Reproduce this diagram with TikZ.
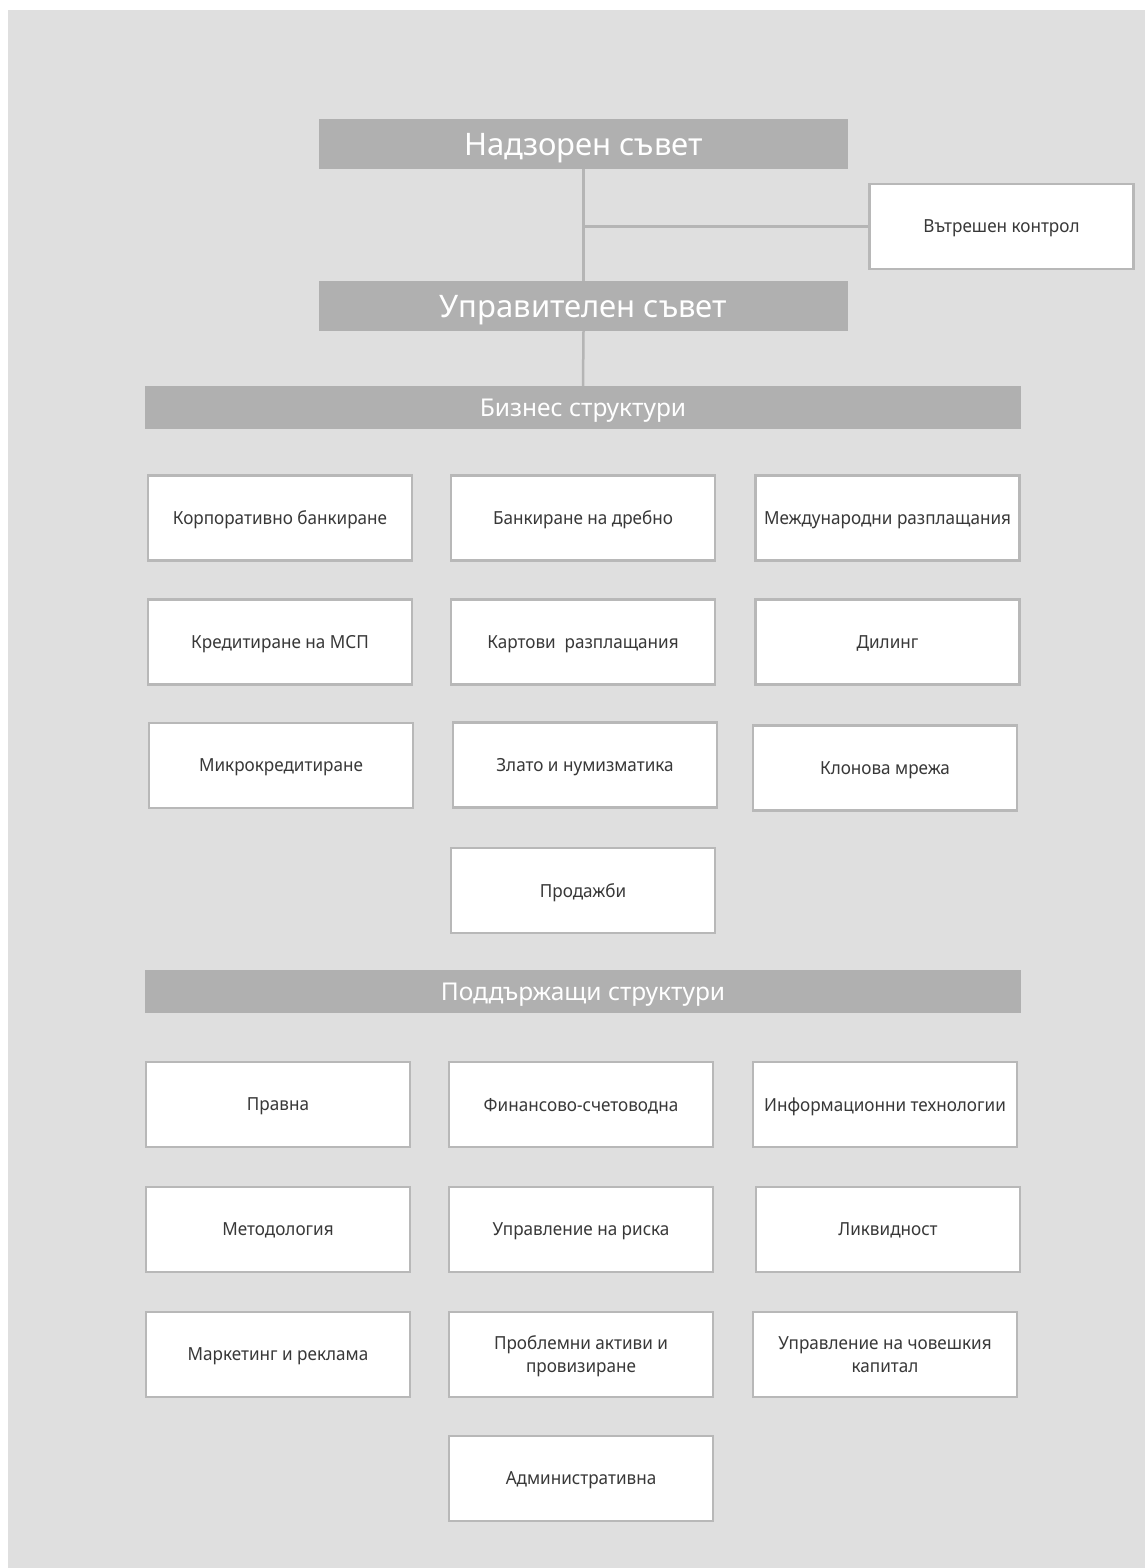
\documentclass[tikz,border=0pt]{standalone}
\usepackage{fontspec}
\setmainfont[Language=Bulgarian]{Noto Sans}
\newfontfamily\boxfont[Language=Bulgarian,FakeStretch=0.95]{Noto Sans}
\newfontfamily\headfont[Language=Bulgarian]{Noto Sans}
\definecolor{bgray}{HTML}{DFDFDF}
\definecolor{headgray}{HTML}{B0B0B0}
\definecolor{boxline}{HTML}{B8B8B8}
\definecolor{conn}{HTML}{B5B5B5}
\definecolor{txt}{HTML}{383838}
\begin{document}
\begin{tikzpicture}[x=1pt,y=-1pt,
  unit/.style={draw=boxline, line width=2.6pt, fill=white, inner sep=0pt,
    minimum width=264pt, minimum height=85pt, text=txt, align=center,
    text depth=0pt, font=\boxfont\fontsize{18}{23}\selectfont},
  bighead/.style={fill=headgray, text=white, inner sep=0pt, text depth=0pt,
    minimum width=529pt, minimum height=50pt, font=\headfont\fontsize{31}{34}\selectfont},
  bar/.style={fill=headgray, text=white, inner sep=0pt, text depth=0pt,
    minimum width=876pt, minimum height=43pt, font=\headfont\fontsize{24.5}{27}\selectfont},
  link/.style={draw=conn, line width=2.5pt}]
\useasboundingbox (0,0) rectangle (1145,1568);
\fill[white] (0,0) rectangle (1145,1568);
\fill[bgray] (8,10) rectangle (1145,1568);

\node[bighead] (nad) at (583.5,144) {Надзорен съвет};
\node[bighead] (upr) at (583.5,306) {Управителен съвет};
\node[unit] (vtr) at (1001.5,226.5) {Вътрешен контрол};
\node[bar] (biz) at (583,407.5) {Бизнес структури};
\node[bar] (pod) at (583,991.5) {Поддържащи структури};

\draw[link] (nad.south) -- (upr.north);
\draw[link] (upr.south) -- (biz.north);
\draw[link] (vtr.west) -- (vtr.west -| nad.south);

% business units
\node[unit] (b1) at (280,518) {Корпоративно банкиране};
\node[unit] (b2) at (583,518) {Банкиране на дребно};
\node[unit] (b3) at (887.5,518) {Международни разплащания};
\node[unit] (b4) at (280,642) {Кредитиране на МСП};
\node[unit] (b5) at (583,642) {Картови\ \ разплащания};
\node[unit] (b6) at (887.5,642) {Дилинг};
\node[unit] (b7) at (281,765.5) {Микрокредитиране};
\node[unit] (b8) at (585,765) {Злато и нумизматика};
\node[unit] (b9) at (885,768) {Клонова мрежа};
\node[unit] (b10) at (583,890.5) {Продажби};

% support units
\node[unit] (s1) at (278,1104.5) {Правна};
\node[unit] (s2) at (581,1104.5) {Финансово-счетоводна};
\node[unit] (s3) at (885,1104.5) {Информационни технологии};
\node[unit] (s4) at (278,1229.5) {Методология};
\node[unit] (s5) at (581,1229.5) {Управление на риска};
\node[unit] (s6) at (888,1229.5) {Ликвидност};
\node[unit] (s7) at (278,1354.5) {Маркетинг и реклама};
\node[unit] (s8) at (581,1354.5) {Проблемни активи и\\провизиране};
\node[unit] (s9) at (885,1354.5) {Управление на човешкия\\капитал};
\node[unit] (s10) at (581,1478.5) {Административна};
\end{tikzpicture}
\end{document}
